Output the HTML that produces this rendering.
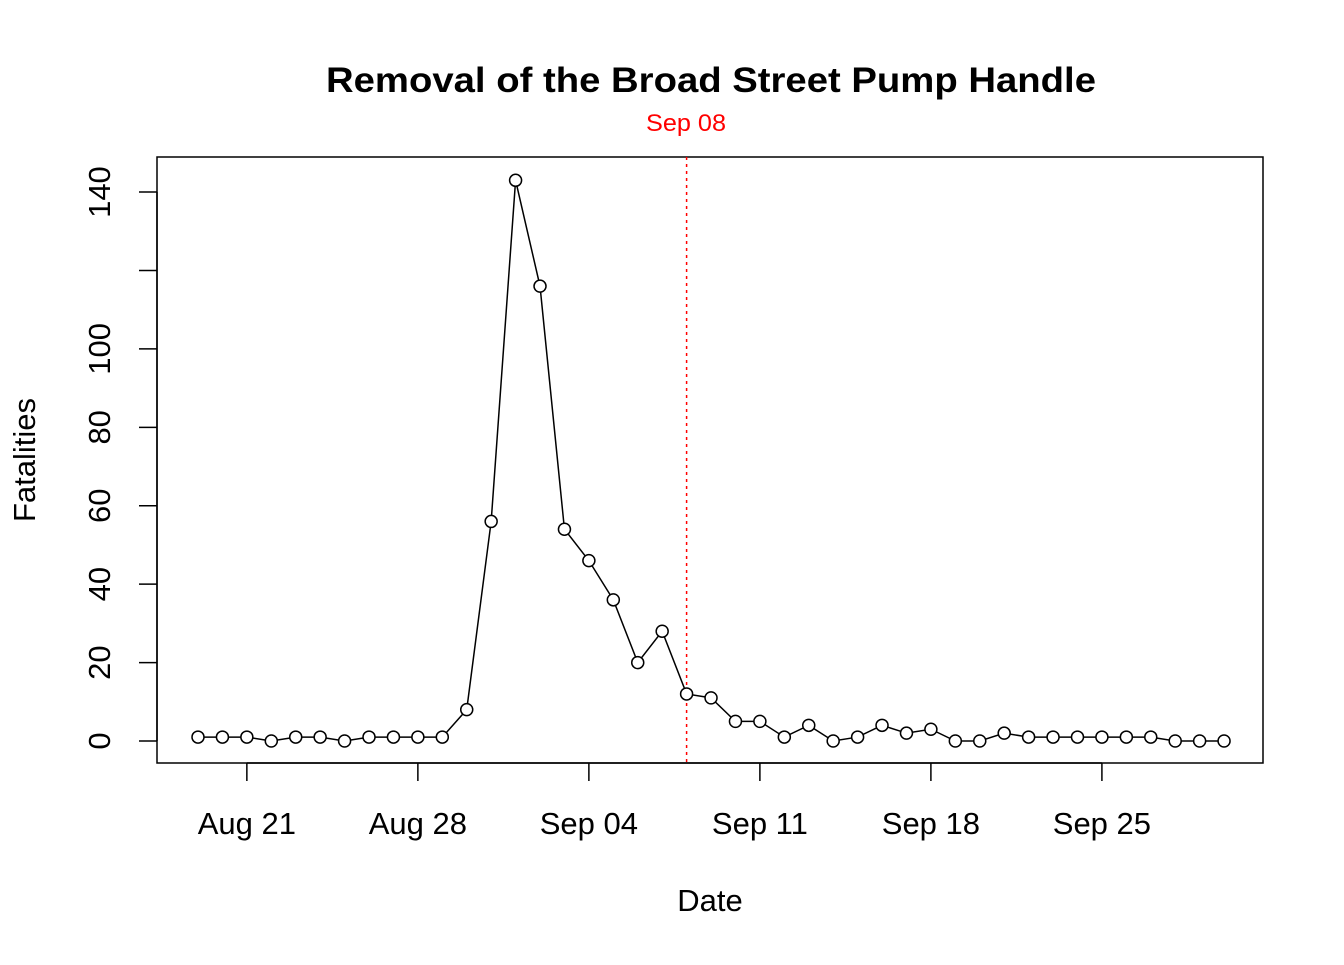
<!DOCTYPE html>
<html><head><meta charset="utf-8">
<style>
html,body{margin:0;padding:0;background:#fff;}
svg text{font-family:"Liberation Sans",Arial,sans-serif;}
</style></head>
<body>
<svg id="chart" width="1344" height="960" viewBox="0 0 1344 960" xmlns="http://www.w3.org/2000/svg">
<rect width="1344" height="960" fill="#fff"/>
<text x="326" y="92" font-size="35" font-weight="bold" textLength="770" lengthAdjust="spacingAndGlyphs">Removal of the Broad Street Pump Handle</text>
<text x="646" y="131" font-size="24" fill="#ff0000" textLength="80" lengthAdjust="spacingAndGlyphs">Sep 08</text>
<rect x="157" y="157" width="1106" height="606" fill="none" stroke="#000" stroke-width="1.5"/>
<text x="710" y="911" text-anchor="middle" font-size="31">Date</text>
<text transform="translate(35,460) rotate(-90)" text-anchor="middle" font-size="31">Fatalities</text>
<g id="axes"></g>
<g id="marks"></g>
</svg>
<script>
const deaths = [1,1,1,0,1,1,0,1,1,1,1,8,56,143,116,54,46,36,20,28,12,11,5,5,1,4,0,1,4,2,3,0,0,2,1,1,1,1,1,1,0,0,0];
const startDay = 0; // Aug 19 = day 0
const xTickDays = [2,9,16,23,30,37];
const xTickLabels = ["Aug 21","Aug 28","Sep 04","Sep 11","Sep 18","Sep 25"];
const yTicks = [0,20,40,60,80,100,120,140];
const yTickLabels = ["0","20","40","60","80","100","","140"];
const pumpDay = 20;

const NS="http://www.w3.org/2000/svg";
const xS = d => 198 + (d - startDay) * 24.43;
const yS = v => 741 - v * 3.921;
const axes=document.getElementById('axes'), marks=document.getElementById('marks');
function mk(tag, attrs, parent){const e=document.createElementNS(NS,tag);for(const k in attrs)e.setAttribute(k,attrs[k]);parent.appendChild(e);return e;}

mk('line',{x1:xS(xTickDays[0]),x2:xS(xTickDays[xTickDays.length-1]),y1:763,y2:763,stroke:'#000','stroke-width':1.5},axes);
xTickDays.forEach((d,i)=>{
  const t=mk('line',{x1:xS(d),x2:xS(d),y1:763,y2:781,stroke:'#000','stroke-width':1.5},axes);
  
  
  const l=mk('text',{x:xS(d),y:834,'text-anchor':'middle','font-size':31},axes);
  l.textContent=xTickLabels[i];
  
  
});
mk('line',{x1:157,x2:157,y1:yS(0),y2:yS(140),stroke:'#000','stroke-width':1.5},axes);
yTicks.forEach((v,i)=>{
  const t=mk('line',{x1:139,x2:157,y1:yS(v),y2:yS(v),stroke:'#000','stroke-width':1.5},axes);
  
  
  if(yTickLabels[i]){
    const l=mk('text',{transform:`translate(110,${yS(v)}) rotate(-90)`,'text-anchor':'middle','font-size':31},axes);
    l.textContent=yTickLabels[i];
    
    
  }
});
const pl=mk('line',{x1:xS(pumpDay),x2:xS(pumpDay),y1:157,y2:763,stroke:'#ff0000','stroke-width':1.5,'stroke-dasharray':'3,4'},marks);


const pts=deaths.map((v,i)=>xS(startDay+i)+','+yS(v)).join(' ');
const line=mk('polyline',{points:pts,fill:'none',stroke:'#000','stroke-width':1.5},marks);


deaths.forEach((v,i)=>{
  const c=mk('circle',{cx:xS(startDay+i),cy:yS(v),r:6,fill:'#fff',stroke:'#000','stroke-width':1.5},marks);
  
  
});
</script>
</body></html>
